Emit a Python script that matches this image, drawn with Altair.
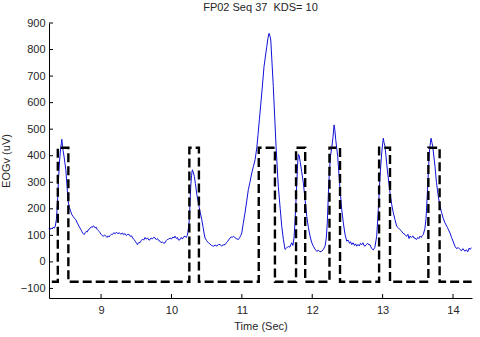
import altair as alt
import pandas as pd

# EOGv trace (time in s, value in uV)
eog_time = [8.26, 8.275, 8.29, 8.305, 8.32, 8.335, 8.35, 8.365, 8.38, 8.393, 8.41, 8.425, 8.435, 8.442, 8.45, 8.46, 8.475, 8.49, 8.499, 8.515, 8.525, 8.536, 8.55, 8.57, 8.585, 8.6, 8.62, 8.641, 8.655, 8.67, 8.685, 8.7, 8.712, 8.725, 8.74, 8.759, 8.775, 8.79, 8.8, 8.815, 8.83, 8.845, 8.86, 8.875, 8.89, 8.901, 8.915, 8.93, 8.945, 8.96, 8.972, 8.985, 9.0, 9.015, 9.03, 9.05, 9.067, 9.085, 9.1, 9.115, 9.13, 9.145, 9.161, 9.18, 9.2, 9.22, 9.24, 9.26, 9.28, 9.303, 9.32, 9.34, 9.36, 9.38, 9.398, 9.415, 9.43, 9.45, 9.469, 9.49, 9.505, 9.516, 9.53, 9.554, 9.57, 9.59, 9.605, 9.625, 9.64, 9.66, 9.68, 9.696, 9.71, 9.73, 9.75, 9.767, 9.785, 9.8, 9.82, 9.838, 9.855, 9.87, 9.89, 9.909, 9.925, 9.94, 9.96, 9.98, 10.0, 10.02, 10.035, 10.051, 10.07, 10.085, 10.1, 10.122, 10.14, 10.155, 10.175, 10.193, 10.21, 10.225, 10.232, 10.245, 10.254, 10.265, 10.274, 10.285, 10.297, 10.31, 10.325, 10.34, 10.36, 10.382, 10.395, 10.41, 10.43, 10.45, 10.465, 10.477, 10.5, 10.524, 10.545, 10.57, 10.595, 10.62, 10.645, 10.67, 10.69, 10.71, 10.735, 10.761, 10.78, 10.8, 10.82, 10.832, 10.85, 10.865, 10.879, 10.9, 10.92, 10.95, 10.97, 10.985, 10.999, 11.02, 11.045, 11.07, 11.092, 11.115, 11.141, 11.165, 11.188, 11.212, 11.23, 11.249, 11.283, 11.315, 11.354, 11.372, 11.386, 11.4, 11.411, 11.447, 11.486, 11.518, 11.545, 11.567, 11.59, 11.614, 11.635, 11.661, 11.68, 11.709, 11.725, 11.741, 11.755, 11.77, 11.788, 11.795, 11.803, 11.815, 11.83, 11.85, 11.874, 11.9, 11.922, 11.945, 11.969, 11.99, 12.016, 12.04, 12.064, 12.09, 12.11, 12.135, 12.16, 12.182, 12.2, 12.214, 12.23, 12.243, 12.26, 12.277, 12.295, 12.31, 12.322, 12.334, 12.362, 12.395, 12.42, 12.442, 12.465, 12.49, 12.51, 12.53, 12.545, 12.561, 12.58, 12.6, 12.615, 12.632, 12.65, 12.67, 12.685, 12.703, 12.72, 12.735, 12.75, 12.77, 12.79, 12.805, 12.821, 12.845, 12.868, 12.89, 12.916, 12.939, 12.963, 12.987, 13.0, 13.01, 13.02, 13.034, 13.067, 13.105, 13.13, 13.152, 13.175, 13.2, 13.225, 13.247, 13.27, 13.29, 13.318, 13.34, 13.36, 13.375, 13.389, 13.41, 13.43, 13.445, 13.46, 13.48, 13.5, 13.515, 13.531, 13.55, 13.565, 13.578, 13.6, 13.616, 13.641, 13.663, 13.675, 13.688, 13.7, 13.712, 13.744, 13.765, 13.791, 13.815, 13.839, 13.86, 13.886, 13.92, 13.957, 13.98, 14.005, 14.028, 14.05, 14.075, 14.099, 14.12, 14.14, 14.17, 14.19, 14.21, 14.23, 14.241, 14.265]
eog_value = [126, 122, 128, 124, 131, 127, 135, 160, 220, 300, 380, 430, 445, 462, 440, 420, 395, 365, 347, 290, 250, 222, 205, 189, 178, 172, 165, 159, 150, 143, 135, 128, 122, 115, 108, 103, 110, 115, 112, 120, 122, 128, 132, 130, 136, 134, 128, 131, 122, 118, 115, 110, 104, 100, 96, 102, 97, 92, 98, 94, 100, 104, 103, 110, 106, 112, 106, 110, 104, 109, 102, 107, 99, 104, 103, 96, 99, 90, 84, 76, 70, 65, 72, 73, 80, 86, 82, 92, 86, 90, 82, 84, 90, 87, 93, 90, 84, 88, 80, 78, 72, 76, 70, 72, 80, 84, 86, 90, 86, 94, 90, 97, 88, 92, 82, 84, 92, 86, 95, 97, 92, 100, 110, 135, 160, 230, 285, 325, 347, 338, 322, 295, 255, 222, 205, 185, 160, 130, 105, 90, 80, 72, 68, 62, 59, 63, 60, 66, 65, 60, 64, 65, 72, 78, 86, 90, 94, 92, 97, 92, 88, 84, 92, 100, 109, 145, 185, 230, 272, 300, 335, 360, 385, 429, 480, 535, 636, 736, 811, 845, 861, 850, 836, 661, 435, 285, 200, 134, 85, 47, 52, 59, 55, 72, 62, 90, 150, 235, 340, 380, 405, 400, 375, 340, 297, 230, 172, 130, 97, 75, 59, 48, 40, 44, 38, 40, 48, 59, 90, 147, 260, 335, 400, 429, 470, 516, 495, 460, 397, 272, 195, 147, 105, 78, 82, 70, 76, 65, 72, 62, 68, 59, 66, 60, 70, 65, 72, 62, 59, 66, 70, 64, 65, 50, 45, 55, 97, 197, 322, 410, 445, 466, 450, 435, 347, 260, 215, 185, 160, 134, 128, 122, 115, 108, 103, 96, 104, 88, 97, 92, 98, 90, 90, 84, 92, 88, 97, 92, 100, 103, 125, 160, 285, 410, 440, 466, 450, 435, 360, 300, 247, 210, 185, 165, 147, 130, 109, 92, 75, 59, 50, 54, 47, 42, 50, 40, 46, 38, 52, 47, 53]

# KDS detection step signal (transition times)
kds_time = [8.30, 8.385, 8.535, 10.254, 10.39, 11.24, 11.47, 11.77, 11.90, 12.245, 12.395, 12.95, 13.105, 13.65, 13.81, 14.265]
kds_value = [-75, 430, -75, 430, -75, 430, -75, 430, -75, 430, -75, 430, -75, 430, -75, -75]

x_ticks = [9, 10, 11, 12, 13, 14]
y_ticks = [-100, 0, 100, 200, 300, 400, 500, 600, 700, 800, 900]

eog = pd.DataFrame({"t": eog_time, "v": eog_value})
kds = pd.DataFrame({"t": kds_time, "v": kds_value})
xt = pd.DataFrame({"t": x_ticks})
yt = pd.DataFrame({"v": y_ticks})

FONT = "Liberation Sans"
TXT = "#262626"
W, H = 423, 275

xscale = alt.Scale(domain=[8.26, 14.27], nice=False, zero=False)
yscale = alt.Scale(domain=[-136, 900], nice=False, zero=False)
xaxis = alt.Axis(values=x_ticks, tickSize=0, labelPadding=6, grid=False,
                 domainColor="black", titlePadding=5, format="d")
yaxis = alt.Axis(values=y_ticks, tickSize=0, labelPadding=4, grid=False,
                 domainColor="black", titlePadding=9, format="d")

X = alt.X("t:Q", scale=xscale, axis=xaxis, title="Time (Sec)")
Y = alt.Y("v:Q", scale=yscale, axis=yaxis, title="EOGv (uV)")

blue = alt.Chart(eog).mark_line(color="#1010d8", strokeWidth=1).encode(x=X, y=Y)

dashed = alt.Chart(kds).mark_line(color="black", strokeWidth=2.4, strokeDash=[9, 4],
                                  interpolate="step-after").encode(x=X, y=Y)

xticks = alt.Chart(xt).mark_rule(color="black", strokeWidth=1).encode(
    x=X, y=alt.value(H), y2=alt.value(H - 4),
)
yticks = alt.Chart(yt).mark_rule(color="black", strokeWidth=1).encode(
    y=Y, x=alt.value(0), x2=alt.value(4),
)

chart = alt.layer(blue, dashed, xticks, yticks).properties(
    width=W, height=H,
    title=alt.TitleParams("FP02 Seq 37\u00a0 KDS= 10", fontSize=11, font=FONT, color=TXT,
                          fontWeight="normal", offset=4),
    autosize=alt.AutoSizeParams(type="none"),
    padding={"left": 49, "top": 23, "right": 8, "bottom": 39},
    background="white",
).configure_view(stroke=None).configure_axis(
    labelFont=FONT, titleFont=FONT, labelFontSize=11, titleFontSize=11,
    labelColor=TXT, titleColor=TXT, titleFontWeight="normal", domainWidth=1,
)

chart.save("out.html", embed_options={"renderer": "svg", "actions": False})
